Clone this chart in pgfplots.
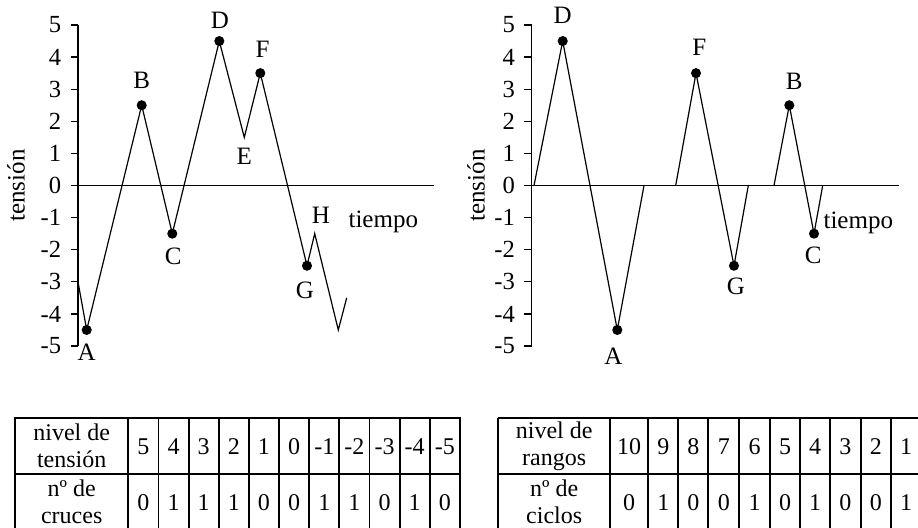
\documentclass[border=0pt]{standalone}
\usepackage{pgfplots}
\pgfplotsset{compat=1.18}
\usepackage{fontspec}
\setmainfont{Liberation Serif}

\tikzset{lbl/.style={font=\fontsize{12.5}{14}\selectfont, inner sep=0pt}}
\pgfplotsset{
  cyc/.style={
    scale only axis, height=160.5pt,
    xmin=0, ymin=-5, ymax=5,
    axis y line=left, axis x line=middle,
    axis line style={-, line width=0.6pt, black},
    xtick=\empty, ytick={-5,-4,-3,-2,-1,0,1,2,3,4,5},
    yticklabels={-5,-4,-3,-2,-1,0,1,2,3,4,5},
    hide obscured y ticks=false,
    tick align=outside, major tick length=3.7pt,
    tick style={line width=0.6pt, black},
    yticklabel style={font=\fontsize{12.3}{14}\selectfont, inner sep=1.5pt, xshift=-3pt},
    clip=false,
    every axis plot/.append style={black, line width=0.6pt},
  }
}

\begin{document}
\begin{tikzpicture}
\useasboundingbox (0,0) rectangle (459pt,-263.5pt);

% ---------- left chart ----------
\begin{axis}[cyc, at={(39pt,-173pt)}, anchor=south west, width=178pt, xmax=356]
\addplot[no marks] coordinates {
 (0,-3) (8.7,-4.5) (63.7,2.5) (94.3,-1.5) (141.3,4.5) (166.3,1.5)
 (182.3,3.5) (229,-2.5) (236.7,-1.5) (260.3,-4.5) (268.7,-3.5)};
\addplot[only marks, mark=*, mark size=2.2pt] coordinates {
 (8.7,-4.5) (63.7,2.5) (94.3,-1.5) (141.3,4.5) (182.3,3.5) (229,-2.5)};
\node[lbl] at (axis cs:8.7,-5.2) {A};
\node[lbl] at (axis cs:63.7,3.29) {B};
\node[lbl] at (axis cs:95.3,-2.22) {C};
\node[lbl] at (axis cs:142,5.13) {D};
\node[lbl] at (axis cs:166.3,0.92) {E};
\node[lbl] at (axis cs:184.7,4.25) {F};
\node[lbl] at (axis cs:227,-3.26) {G};
\node[lbl] at (axis cs:243,-0.92) {H};
\node[lbl] at (axis cs:305.3,-1.13) {tiempo};
\end{axis}

% ---------- right chart ----------
\begin{axis}[cyc, at={(265.85pt,-173pt)}, anchor=south west, width=183.65pt, xmax=367.3]
\addplot[no marks] coordinates {(2.3,0) (31,4.5) (85.6,-4.5) (112.3,0)};
\addplot[no marks] coordinates {(144,0) (164.3,3.5) (202.3,-2.5) (216.6,0)};
\addplot[no marks] coordinates {(242.3,0) (257.6,2.5) (282.3,-1.5) (291,0)};
\addplot[only marks, mark=*, mark size=2.2pt] coordinates {
 (31,4.5) (85.6,-4.5) (164.3,3.5) (202.3,-2.5) (257.6,2.5) (282.3,-1.5)};
\node[lbl] at (axis cs:31,5.31) {D};
\node[lbl] at (axis cs:81.6,-5.33) {A};
\node[lbl] at (axis cs:167.6,4.32) {F};
\node[lbl] at (axis cs:204.3,-3.15) {G};
\node[lbl] at (axis cs:262.6,3.23) {B};
\node[lbl] at (axis cs:281.6,-2.17) {C};
\node[lbl] at (axis cs:326.6,-1.18) {tiempo};
\end{axis}

% y labels
\node[rotate=90, font=\fontsize{12.5}{14}\selectfont] at (8pt,-92.75pt) {tensión};
\node[rotate=90, font=\fontsize{12.5}{14}\selectfont] at (238pt,-92.75pt) {tensión};

% ---------- tables ----------
\begin{scope}[x=0.5pt, y=-0.5pt, line width=0.9pt, font=\fontsize{12}{13.5}\selectfont]
 % left table
 \draw (15,418) rectangle (460,532);
 \draw (15,474) -- (460,474);
 \foreach \k in {0,...,10} \draw ({128.3+\k*30.15},418) -- ({128.3+\k*30.15},532);
 \node[align=center] at (71.7,446) {nivel de\\tensión};
 \node[align=center] at (71.7,502) {nº de\\cruces};
 \foreach \v [count=\i] in {5,4,3,2,1,0,-1,-2,-3,-4,-5}
   \node at ({128.3+(\i-0.5)*30.15},447) {\v};
 \foreach \v [count=\i] in {0,1,1,1,0,0,1,1,0,1,0}
   \node at ({128.3+(\i-0.5)*30.15},503) {\v};
 % right table
 \draw (498.3,418) -- (925,418);
 \draw (498.3,474) -- (925,474);
 \draw (498.3,532) -- (925,532);
 \foreach \xx in {498.3,610,648.3,678.3,708.3,739.3,770,800,830,860.7,891,921}
   \draw (\xx,418) -- (\xx,532);
 \node[align=center] at (554.2,446) {nivel de\\rangos};
 \node[align=center] at (554.2,502) {nº de\\ciclos};
 \foreach \a/\b/\t/\c in {610/648.3/10/0, 648.3/678.3/9/1, 678.3/708.3/8/0,
   708.3/739.3/7/0, 739.3/770/6/1, 770/800/5/0, 800/830/4/1, 830/860.7/3/0,
   860.7/891/2/0, 891/921/1/1}{
   \node at ({(\a+\b)/2},447) {\t};
   \node at ({(\a+\b)/2},503) {\c};
 }
\end{scope}
\end{tikzpicture}
\end{document}
